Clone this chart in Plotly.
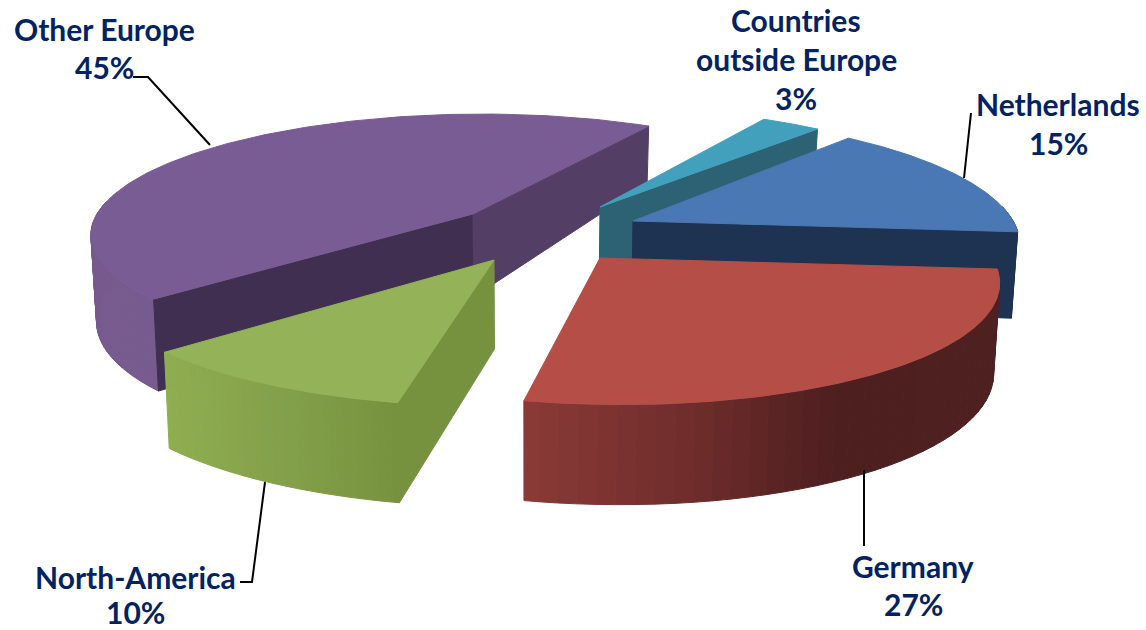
import numpy as np
import plotly.graph_objects as go

# Chart data, clockwise from the first slice
categories = ["Netherlands", "Germany", "North-America", "Other Europe", "Countries outside Europe"]
shares = [15, 27, 10, 45, 3]

# Label text lines and where each line of text is centred
label_lines = [["Netherlands"], ["Germany"], ["North-America"], ["Other Europe"], ["Countries", "outside Europe"]]
label_xy = [[(1058, 104)], [(913, 566)], [(135, 577)], [(104, 29)], [(796, 20), (796, 59)]]
percent_xy = [(1058, 143), (913, 604), (135, 612), (104, 67), (796, 98)]

# Leader lines
leaders = [
    [(971, 113), (964, 178)],
    [(864, 470), (864, 546)],
    [(240, 582), (252, 582), (265, 482)],
    [(133, 77), (148, 77), (210, 145)],
]

# Projection of the tilted disc
START_ANGLE = 41.0
CENTER = (530, 235)
RX, RY, PERSPECTIVE = 400.0, 121.0, 0.15
BOTTOM_SHRINK = 0.987
DEPTH_Y = [122, 204, 235, 403]
DEPTH_PX = [56, 81, 87, 100]

# Explosion offset, size and vanishing column of each slice
slice_shift = [(103, -14), (70, 23), (-36, 25), (-57, -21), (70, -28)]
slice_rx = [0.95, 0.98, 1.0, 0.94, 0.94]
slice_ry = [1.01, 1.03, 1.03, 0.95, 0.95]
slice_vanish = [550, 478, 478, 545, 560]

# Face colours per slice
top_colors = ["#4a78b4", "#b64e48", "#94b257", "#7a5c94", "#43a0bc"]
wall_stops = [
    [(0.0, "#1f3a59"), (1.0, "#1f3a59")],
    [(0.0, "#8a3a37"), (0.35, "#6f2d2b"), (0.65, "#4e1f1f"), (1.0, "#4f2020")],
    [(0.0, "#8fae50"), (0.5, "#83a04a"), (1.0, "#76923e")],
    [(0.0, "#775a8e"), (1.0, "#775a8e")],
    [(0.0, "#2f7085"), (1.0, "#2f7085")],
]
start_cut_colors = ["#1e3352", "#8a3a37", "#76923e", "#402f51", "#2f7085"]
end_cut_colors = ["#1e3352", "#8a3a37", "#76923e", "#533f66", "#2c6274"]
paint_order = [3, 4, 0, 2, 1]

TEXT_COLOR = "#032263"
FONT = "Lato"
FONT_SIZE = 30


def rim(theta_deg, apex, i):
    t = np.radians(theta_deg)
    w = 1 + PERSPECTIVE * np.cos(t)
    shear = (apex[0] - slice_vanish[i]) * (1 / w - 1)
    x = apex[0] + slice_rx[i] * RX * np.sin(t) / w + shear
    y = apex[1] - slice_ry[i] * RY * np.cos(t) / w
    return x, y


def drop(x, y):
    """Lower edge of the slab beneath a point on its upper face."""
    return CENTER[0] + (x - CENTER[0]) * BOTTOM_SHRINK, y + np.interp(y, DEPTH_Y, DEPTH_PX)


def gradient(stops, t):
    ts = [s[0] for s in stops]
    rgb = [[int(s[1][i:i + 2], 16) for i in (1, 3, 5)] for s in stops]
    return "rgb({:.0f},{:.0f},{:.0f})".format(*[np.interp(t, ts, [c[k] for c in rgb]) for k in range(3)])


def polygon(xs, ys, color):
    return go.Scatter(
        x=list(xs) + [xs[0]], y=list(ys) + [ys[0]], mode="lines", fill="toself",
        fillcolor=color, line=dict(color=color, width=1), hoverinfo="skip", showlegend=False,
    )


def cut_face(apex, px, py, mx, my, color):
    """Straight cut wall; only drawn when the upper face lies above that edge."""
    edge_y = apex[1] + (py - apex[1]) * (mx - apex[0]) / (px - apex[0])
    if my >= edge_y:
        return None
    ax2, ay2 = drop(*apex)
    px2, py2 = drop(px, py)
    return polygon([apex[0], px, px2, ax2], [apex[1], py, py2, ay2], color)


edges = START_ANGLE + np.cumsum([0] + [s * 3.6 for s in shares])
fig = go.Figure()

for i in paint_order:
    apex = (CENTER[0] + slice_shift[i][0], CENTER[1] + slice_shift[i][1])
    a0, a1 = edges[i], edges[i + 1]
    thetas = np.linspace(a0, a1, 160)
    rx, ry = rim(thetas, apex, i)
    mid_x, mid_y = rim((a0 + a1) / 2, apex, i)

    # Outer wall as narrow strips, front-facing part only
    visible = np.where(np.cos(np.radians(thetas)) < 0.12)[0]
    if len(visible) > 1:
        idx = visible[:: max(1, len(visible) // 40)]
        if idx[-1] != visible[-1]:
            idx = np.append(idx, visible[-1])
        x_lo, x_hi = rx[visible].min(), rx[visible].max()
        for a, b in zip(idx[:-1], idx[1:]):
            seg_x, seg_y = rx[a:b + 1], ry[a:b + 1]
            low_x, low_y = drop(seg_x, seg_y)
            t = (0.5 * (rx[a] + rx[b]) - x_lo) / (x_hi - x_lo)
            fig.add_trace(polygon(
                list(seg_x) + list(low_x[::-1]), list(seg_y) + list(low_y[::-1]),
                gradient(wall_stops[i], t),
            ))

    # Cut walls, then the upper face
    for px, py, col in ((rx[0], ry[0], start_cut_colors[i]), (rx[-1], ry[-1], end_cut_colors[i])):
        face = cut_face(apex, px, py, mid_x, mid_y, col)
        if face is not None:
            fig.add_trace(face)
    fig.add_trace(polygon([apex[0]] + list(rx), [apex[1]] + list(ry), top_colors[i]))

for path in leaders:
    fig.add_trace(go.Scatter(
        x=[p[0] for p in path], y=[p[1] for p in path], mode="lines",
        line=dict(color="#000000", width=2), hoverinfo="skip", showlegend=False,
    ))

annotations = []
for lines, spots, pct, pct_pos in zip(label_lines, label_xy, shares, percent_xy):
    for text, (x, y) in list(zip(lines, spots)) + [(f"{pct}%", pct_pos)]:
        annotations.append(dict(
            x=x, y=y, xref="x", yref="y", text=f"<b>{text}</b>", showarrow=False,
            xanchor="center", yanchor="middle",
            font=dict(family=FONT, size=FONT_SIZE, color=TEXT_COLOR),
        ))

fig.update_layout(
    width=1146, height=630, margin=dict(l=0, r=0, t=0, b=0),
    paper_bgcolor="white", plot_bgcolor="white", showlegend=False,
    xaxis=dict(range=[0, 1146], visible=False, fixedrange=True),
    yaxis=dict(range=[630, 0], visible=False, fixedrange=True),
    annotations=annotations,
)

fig.write_html("out.html", config={"displayModeBar": False})
